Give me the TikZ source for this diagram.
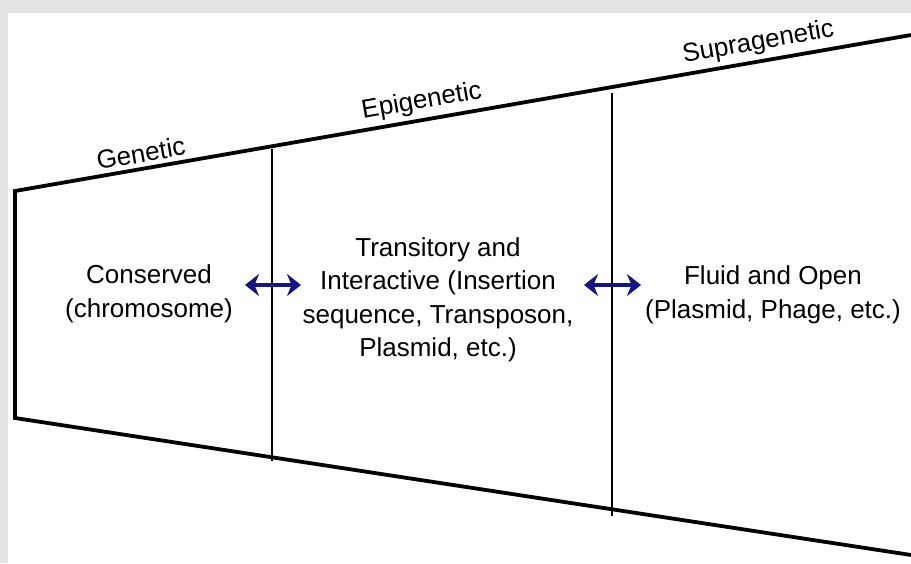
\documentclass[tikz,border=0pt]{standalone}
\usepackage{fontspec}
\setmainfont{Liberation Sans}
\usetikzlibrary{arrows.meta, positioning}

\definecolor{framegray}{RGB}{227,227,227}
\definecolor{arrowblue}{RGB}{22,22,128}

\begin{document}
\begin{tikzpicture}[x=1pt, y=-1pt,
    txt/.style={align=center, font=\fontsize{26}{33.5}\selectfont, inner sep=0pt},
    lbl/.style={sloped, above, font=\fontsize{26}{30}\selectfont, inner sep=6pt},
    outline/.style={line width=3.8pt, line join=miter},
    divider/.style={line width=2.2pt},
    exchange/.style={arrowblue, line width=4.2pt,
        {Stealth[length=14pt, width=22pt, inset=4.5pt]}-{Stealth[length=14pt, width=22pt, inset=4.5pt]}}]

    % frame
    \fill[framegray] (0,0) rectangle (911,563);
    \fill[white] (8,13) rectangle (911,563);
    \useasboundingbox (0,0) rectangle (911,563);

    \coordinate (tl) at (15,191);
    \coordinate (tr) at (911,35);
    \coordinate (bl) at (15,418);
    \coordinate (br) at (911,555);
    \coordinate (g1) at (272,146.3);
    \coordinate (g2) at (612,87.1);

    \coordinate (d1t) at (272,149);
    \coordinate (d1b) at (272,461);
    \coordinate (d2t) at (612,93);
    \coordinate (d2b) at (612,516);

    % outline
    \draw[outline] (tr) -- (tl) -- (bl) -- (br);
    \path (tl) -- node[lbl] (gen) {Genetic} (g1);
    \path (g1) -- node[lbl, pos=0.45] (epi) {Epigenetic} (g2);
    \path (g2) -- node[lbl, pos=0.5] (supra) {Supragenetic} (tr);

    \draw[divider] (d1t) -- (d1b);
    \draw[divider] (d2t) -- (d2b);

    \node[txt] (cons) at (149,294) {Conserved\\(chromosome)};
    \node[txt] (trans) at (438,300) {Transitory and\\Interactive (Insertion\\sequence, Transposon,\\Plasmid, etc.)};
    \node[txt] (fluid) at (773,295) {Fluid and Open\\(Plasmid, Phage, etc.)};

    \coordinate (a1l) at (245,285);
    \coordinate (a1r) at (301,285);
    \coordinate (a2l) at (584,285);
    \coordinate (a2r) at (641,285);
    \draw[exchange] (a1l) -- (a1r);
    \draw[exchange] (a2l) -- (a2r);

\end{tikzpicture}
\end{document}
